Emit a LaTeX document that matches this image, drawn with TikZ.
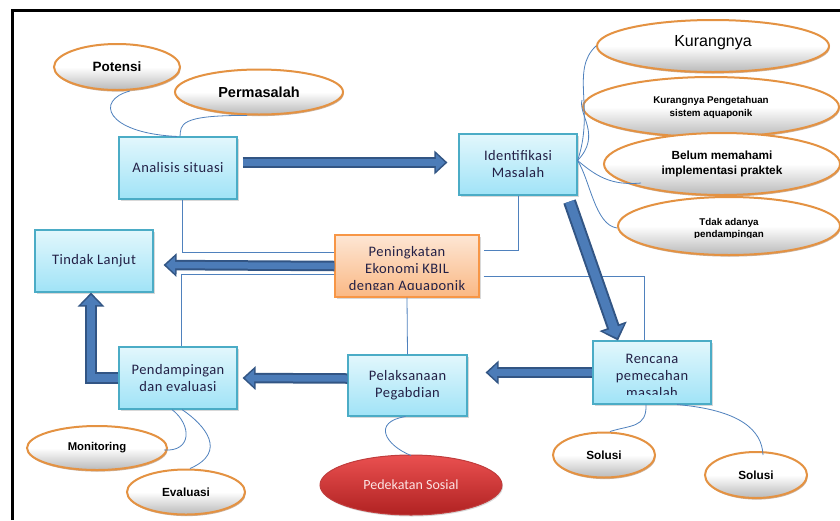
\documentclass[tikz,border=0pt]{standalone}
\usepackage{fontspec}
\setmainfont{Carlito}
\newfontfamily\lsans{Liberation Sans}
\newfontfamily\boxfont[LetterSpace=3]{Carlito}
\usetikzlibrary{shapes.geometric,shadows,arrows.meta}
\definecolor{boxline}{RGB}{75,172,198}
\definecolor{boxtop}{RGB}{226,247,252}
\definecolor{boxbot}{RGB}{160,227,247}
\definecolor{orline}{RGB}{247,150,70}
\definecolor{ortop}{RGB}{253,230,212}
\definecolor{orbot}{RGB}{250,184,132}
\definecolor{txt}{RGB}{35,32,70}
\definecolor{conn}{RGB}{79,129,189}
\definecolor{arrin}{RGB}{76,124,184}
\definecolor{arrout}{RGB}{50,85,132}
\definecolor{ellline}{RGB}{228,146,66}
\definecolor{ellshadow}{RGB}{140,80,30}
\definecolor{redtop}{RGB}{234,80,80}
\definecolor{redbot}{RGB}{176,34,34}
\definecolor{redline}{RGB}{192,60,60}
\definecolor{pinktxt}{RGB}{252,228,228}
\newcommand\blkarrow[3]{\draw[#1] #3; \draw[#2] #3;}
\tikzset{
  bluebox/.style={rectangle, draw=boxline, line width=1.1pt, top color=boxtop, bottom color=boxbot,
    minimum width=118pt, minimum height=62pt, inner sep=2pt, align=center, text=txt,
    font=\boxfont\fontsize{14.5}{17}\selectfont,
    drop shadow={opacity=0.3, shadow xshift=1.5pt, shadow yshift=-1.5pt}},
  orbox/.style={bluebox, draw=orline, top color=ortop, bottom color=orbot},
  boxtext/.style={align=center, text=txt, inner sep=0pt, font=\boxfont\fontsize{14.5}{17}\selectfont},
  ell/.style={ellipse, draw=ellline, line width=2pt, top color=white, bottom color=gray!55,
    middle color=white, inner sep=0pt, align=center, text=black,
    drop shadow={opacity=0.45, fill=ellshadow, shadow xshift=0.8pt, shadow yshift=-1.6pt}},
  redell/.style={ellipse, draw=redline, line width=1pt, top color=redtop, bottom color=redbot,
    inner sep=0pt, text=pinktxt, font=\fontsize{14}{17}\selectfont,
    drop shadow={opacity=0.3, shadow xshift=1pt, shadow yshift=-1.5pt}},
  conn/.style={draw=conn, line width=0.8pt},
  aout/.style={draw=arrout, line width=10.5pt, -{Triangle[width=23pt,length=13pt]}},
  ain/.style={draw=arrin, line width=6.5pt, shorten >=2.5pt, -{Triangle[width=16.5pt,length=9pt]}},
  doutd/.style={draw=arrout, line width=13pt, -{Triangle[width=28pt,length=15pt]}},
  dind/.style={draw=arrin, line width=9pt, shorten >=2.8pt, -{Triangle[width=21pt,length=10.5pt]}},
  eout/.style={draw=arrout, line width=12pt, -{Triangle[width=26pt,length=14pt]}},
  ein/.style={draw=arrin, line width=8pt, shorten >=2.6pt, -{Triangle[width=19.5pt,length=10pt]}},
}
\begin{document}
\begin{tikzpicture}[x=1pt,y=-1pt]
\useasboundingbox (0,0) rectangle (840,520);
\fill[white] (0,0) rectangle (840,520);
% frame
\draw[line width=3pt, black] (12,520) -- (12,10.5) -- (840,10.5);

% ellipses
\node[ell, minimum width=126pt, minimum height=46pt, font=\lsans\bfseries\fontsize{13.5}{15}\selectfont] (pot) at (117,67) {Potensi};
\node[ell, minimum width=168pt, minimum height=45pt, font=\lsans\bfseries\fontsize{14.5}{16}\selectfont] (per) at (259,92) {Permasalah};
\node[ell, minimum width=232pt, minimum height=52pt] (k1) at (713,46) {};
\node[ell, minimum width=256pt, minimum height=60pt, font=\lsans\bfseries\fontsize{9.8}{13}\selectfont] (k2) at (711,107) {Kurangnya Pengetahuan\\sistem aquaponik};
\node[ell, minimum width=236pt, minimum height=62pt, font=\lsans\bfseries\fontsize{11.8}{15}\selectfont] (k3) at (722,164) {Belum memahami\\implementasi praktek};
\node[ell, minimum width=222pt, minimum height=58pt] (k4) at (729,226) {};
\node[ell, minimum width=140pt, minimum height=44pt, font=\lsans\bfseries\fontsize{11.3}{13}\selectfont] (mon) at (97,448) {Monitoring};
\node[ell, minimum width=118pt, minimum height=45pt, font=\lsans\bfseries\fontsize{11.8}{13}\selectfont] (eva) at (186,492) {Evaluasi};
\node[ell, minimum width=102pt, minimum height=45pt, font=\lsans\bfseries\fontsize{11.8}{13}\selectfont] (sol1) at (604,455) {Solusi};
\node[ell, minimum width=102pt, minimum height=46pt, font=\lsans\bfseries\fontsize{11.8}{13}\selectfont] (sol2) at (756,475) {Solusi};
\node[redell, minimum width=182pt, minimum height=60pt] (ped) at (411,485) {Pedekatan Sosial};

% texts of clipped ellipses
\node[inner sep=0pt, font=\lsans\fontsize{16}{18}\selectfont] (k1t) at ([yshift=3pt]k1.center) {Kurangnya};
\begin{scope}
  \clip (k4.north west) rectangle (840,237.5);
  \node[inner sep=0pt, align=center, font=\lsans\bfseries\fontsize{9.8}{12}\selectfont] (k4t) at ([yshift=-2.5pt]k4.center) {Tdak adanya\\pendampingan};
\end{scope}

% boxes
\node[bluebox] (ana) at (178,168) {Analisis situasi};
\node[bluebox, minimum height=61pt] (ide) at (518,164.5) {Identifikasi\\Masalah};
\node[bluebox] (tin) at (94,261) {Tindak Lanjut};
\node[orbox, minimum width=144pt] (pk) at (407,266) {};
\begin{scope}
  \clip (pk.north west) rectangle ([yshift=8pt]pk.south east);
  \node[boxtext] (pkt) at ([yshift=-4pt]pk.center) {Peningkatan\\Ekonomi KBIL\\dengan Aquaponik};
\end{scope}
\node[bluebox, minimum height=63pt] (ren) at (652,372.5) {};
\begin{scope}
  \clip (ren.north west) rectangle ([yshift=10pt]ren.south east);
  \node[boxtext] (rent) at ([yshift=-3pt]ren.center) {Rencana\\pemecahan\\masalah};
\end{scope}
\node[bluebox, minimum width=119pt, minimum height=61pt] (pel) at (407.5,385.5) {Pelaksanaan\\Pegabdian};
\node[bluebox] (pen) at (178,378) {Pendampingan\\dan evaluasi};

% thin connectors
\draw[conn] ([xshift=13pt]pot.south) .. controls (95,100) and (105,133) .. ([xshift=-1pt]ana.north);
\draw[conn] ([xshift=-12pt]per.south) .. controls (178,115) and (181,125) .. ([xshift=2pt]ana.north);
\draw[conn] ([xshift=4pt]ana.south) |- ([yshift=14pt]pk.west);
\draw[conn] (ide.south) |- ([xshift=4pt,yshift=16pt]pk.east);
\draw[conn] ([xshift=4pt,yshift=-10pt]pk.east) -| ([xshift=-8pt]ren.north);
\draw[conn] ([yshift=-8pt]pk.west) -| ([xshift=3pt]pen.north);
\draw[conn] (pk.south) -- (pel.north);
\draw[conn] ([xshift=-2pt]pel.south) .. controls (372,422) and (385,445) .. ([yshift=-1pt]ped.north);
\draw[conn] ([xshift=-6pt]pen.south) .. controls (192,425) and (192,452) .. ([xshift=-4pt,yshift=-2pt]mon.east);
\draw[conn] ([xshift=4pt]pen.south) .. controls (205,425) and (228,452) .. ([xshift=4pt]eva.north);
\draw[conn] ([xshift=-6pt]ren.south) .. controls (647,428) and (630,425) .. ([xshift=6pt]sol1.north);
\draw[conn] ([xshift=25pt]ren.south) .. controls (740,410) and (762,430) .. ([xshift=7pt,yshift=-4pt]sol2.north);
\draw[conn] ([yshift=4pt]ide.east) .. controls (595,110) and (570,70) .. (k1.west);
\draw[conn] ([yshift=4pt]ide.east) .. controls (602,135) and (578,115) .. ([yshift=7pt]k2.west);
\draw[conn] ([yshift=4pt]ide.east) .. controls (595,175) and (610,186) .. ([xshift=38pt,yshift=-19pt]k3.west);
\draw[conn] ([yshift=4pt]ide.east) .. controls (590,180) and (595,225) .. ([yshift=-2pt]k4.west);

% block arrows
\blkarrow{aout}{ain}{([xshift=5pt,yshift=5.5pt]ana.east) -- ([xshift=-11pt,yshift=2pt]ide.west)}
\blkarrow{doutd}{dind}{([xshift=-8pt,yshift=-6pt]ide.south east) -- ([xshift=-34pt]ren.north)}
\blkarrow{aout}{ain}{(ren.west) -- ([xshift=18pt,yshift=13pt]pel.east)}
\blkarrow{aout}{ain}{([yshift=7pt]pel.west) -- ([xshift=5pt]pen.east)}
\blkarrow{aout}{ain}{(pk.west) -- ([xshift=10pt,yshift=-4pt]tin.east)}
\blkarrow{eout}{ein}{(pen.west) -| ([xshift=-3pt]tin.south)}
\end{tikzpicture}
\end{document}
